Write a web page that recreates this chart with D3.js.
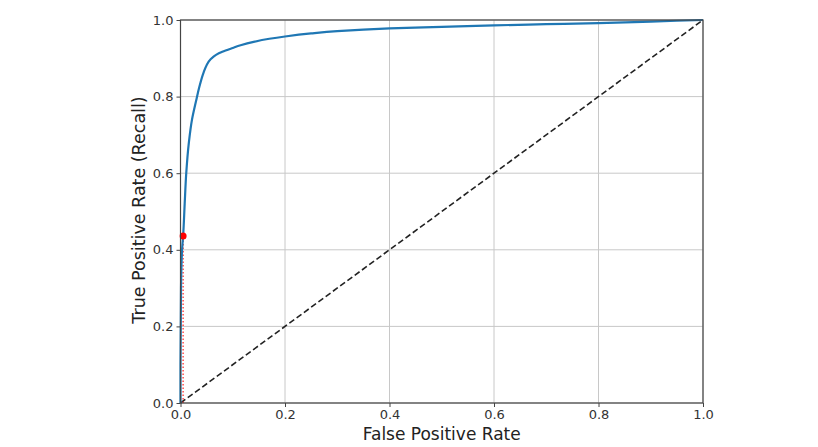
<!DOCTYPE html>
<html><head><meta charset="utf-8">
<script src="https://cdn.jsdelivr.net/npm/d3@7"></script>
<style>body{margin:0;background:#fff}svg{display:block}</style>
</head><body><svg id="c" width="818" height="447"></svg>
<script>
const fpr = [0,0,0.001,0.003,0.005,0.008,0.011,0.016,0.022,0.03,0.036,0.044,0.05,0.058,0.068,0.08,0.1,0.115,0.14,0.17,0.2,0.25,0.3,0.35,0.4,0.5,0.6,0.7,0.8,0.9,1.0];
const tpr = [0,0.1,0.3,0.4,0.436,0.52,0.6,0.68,0.74,0.79,0.825,0.862,0.882,0.898,0.909,0.917,0.927,0.934,0.943,0.951,0.957,0.965,0.971,0.975,0.978,0.982,0.986,0.989,0.992,0.996,1.0];
const point = {fpr:0.005, tpr:0.436};
const ticks = [0,0.2,0.4,0.6,0.8,1.0];
const xLabel = "False Positive Rate";
const yLabel = "True Positive Rate (Recall)";

const svg = d3.select("#c");
const L=180.5, R=703, T=20, B=403;
const x = d3.scaleLinear().domain([0,1]).range([L,R]);
const y = d3.scaleLinear().domain([0,1]).range([B,T]);
const font = "DejaVu Sans, sans-serif";

// grid
const g = svg.append("g");
g.selectAll(".gx").data(ticks).join("line").attr("x1",d=>x(d)).attr("x2",d=>x(d)).attr("y1",T).attr("y2",B).attr("stroke","#c8c8c8").attr("stroke-width",1);
g.selectAll(".gy").data(ticks).join("line").attr("y1",d=>y(d)).attr("y2",d=>y(d)).attr("x1",L).attr("x2",R).attr("stroke","#c8c8c8").attr("stroke-width",1);

// diagonal
svg.append("line").attr("x1",x(0)).attr("y1",y(0)).attr("x2",x(1)).attr("y2",y(1)).attr("stroke","#222").attr("stroke-width",1.6).attr("stroke-dasharray","6,3");

// red dotted
svg.append("line").attr("x1",x(point.fpr)).attr("x2",x(point.fpr)).attr("y1",y(0)).attr("y2",y(point.tpr)).attr("stroke","#ff3030").attr("stroke-width",1.3).attr("stroke-dasharray","1.5,2");
svg.append("line").attr("x1",x(0)).attr("x2",x(point.fpr)).attr("y1",y(point.tpr)).attr("y2",y(point.tpr)).attr("stroke","#ff3030").attr("stroke-width",1.3).attr("stroke-dasharray","1.5,2");

// curve
const line = d3.line().x((d,i)=>x(fpr[i])).y((d,i)=>y(tpr[i])).curve(d3.curveMonotoneY);
svg.append("path").datum(fpr).attr("d",line).attr("fill","none").attr("stroke","#1f77b4").attr("stroke-width",2.2);

svg.append("circle").attr("cx",x(point.fpr)).attr("cy",y(point.tpr)).attr("r",3.5).attr("fill","#ff0000");

// axes
const xa = svg.append("g").attr("transform",`translate(0,${B})`).call(d3.axisBottom(x).tickValues(ticks).tickFormat(d3.format(".1f")).tickSize(4).tickPadding(3));
const ya = svg.append("g").attr("transform",`translate(${L},0)`).call(d3.axisLeft(y).tickValues(ticks).tickFormat(d3.format(".1f")).tickSize(4).tickPadding(3));
[xa,ya].forEach(a=>{a.select(".domain").remove();a.selectAll("text").attr("font-family",font).attr("font-size",13).attr("fill","#333");a.selectAll("line").attr("stroke","#444");});

// frame
svg.append("rect").attr("x",L).attr("y",T).attr("width",R-L).attr("height",B-T).attr("fill","none").attr("stroke","#444").attr("stroke-width",1.2);

svg.append("text").attr("x",(L+R)/2).attr("y",440).attr("text-anchor","middle").attr("font-family",font).attr("font-size",17).attr("fill","#222").text(xLabel);
svg.append("text").attr("transform",`translate(145,210) rotate(-90)`).attr("text-anchor","middle").attr("font-family",font).attr("font-size",17.5).attr("fill","#222").text(yLabel);
</script></body></html>
